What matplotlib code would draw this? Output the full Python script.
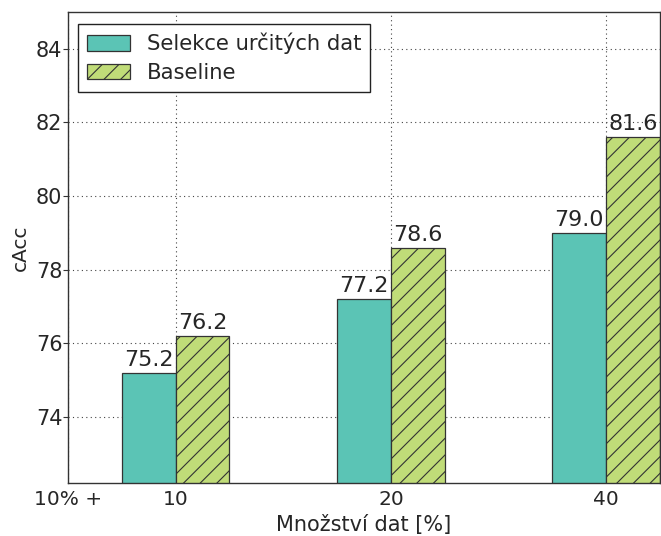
import numpy as np
import matplotlib
matplotlib.use('Agg')
import matplotlib.pyplot as plt

# data
groups = ['10', '20', '40']
selekce = [75.2, 77.2, 79.0]
baseline = [76.2, 78.6, 81.6]

plt.rcParams['font.family'] = 'DejaVu Sans'
plt.rcParams['font.size'] = 14.5
plt.rcParams['hatch.linewidth'] = 0.8
plt.rcParams['hatch.color'] = '#1a1a1a'
txt = '#262626'

fig = plt.figure(figsize=(6.61, 5.36), dpi=100)
ax = fig.add_axes([68 / 661, (536 - 483) / 536, (660 - 68) / 661, (483 - 12) / 536])

x = np.arange(len(groups))
w = 0.25
b1 = ax.bar(x - w, selekce, w, align='edge', color='#5bc4b5', edgecolor='#333333',
            linewidth=0.9, label='Selekce určitých dat', zorder=2)
b2 = ax.bar(x, baseline, w, align='edge', color='#c0dc78', edgecolor='#333333',
            linewidth=0.9, hatch='//', label='Baseline', zorder=2)

for bars, vals in [(b1, selekce), (b2, baseline)]:
    for r, v in zip(bars, vals):
        ax.text(r.get_x() + r.get_width() / 2, v + 0.08, '%.1f' % v,
                ha='center', va='bottom', fontsize=16, color=txt)

ax.set_xlim(-0.5, 2.25)
ax.set_ylim(72.2, 85)
ax.set_xticks([-0.5] + list(x))
ax.set_xticklabels(['10% +'] + groups)
ax.set_yticks([74, 76, 78, 80, 82, 84])
ax.tick_params(axis='y', direction='out', length=3.5, colors='#333333', labelcolor=txt,
               labelsize=15, pad=0.5)
ax.tick_params(axis='x', length=0, labelcolor=txt, labelsize=14.5, pad=5)
ax.grid(True, linestyle=(0, (1, 3)), color='#444444', linewidth=0.8, zorder=0)
ax.set_axisbelow(True)
for s in ax.spines.values():
    s.set_color('#333333')
    s.set_linewidth(1.0)

ax.set_xlabel('Množství dat [%]', fontsize=15, color=txt, labelpad=4)
ax.set_ylabel('cAcc', fontsize=14.5, color=txt, labelpad=4)

leg = ax.legend(loc='upper left', fontsize=15.2, fancybox=False, framealpha=1,
                edgecolor='#222222', handlelength=2.05, handleheight=0.75,
                borderpad=0.42, labelspacing=0.42, handletextpad=0.8,
                borderaxespad=0, bbox_to_anchor=(0.017, 0.975))
leg.get_frame().set_linewidth(1.0)
for t in leg.get_texts():
    t.set_color(txt)

fig.savefig('out.png', dpi=100)
